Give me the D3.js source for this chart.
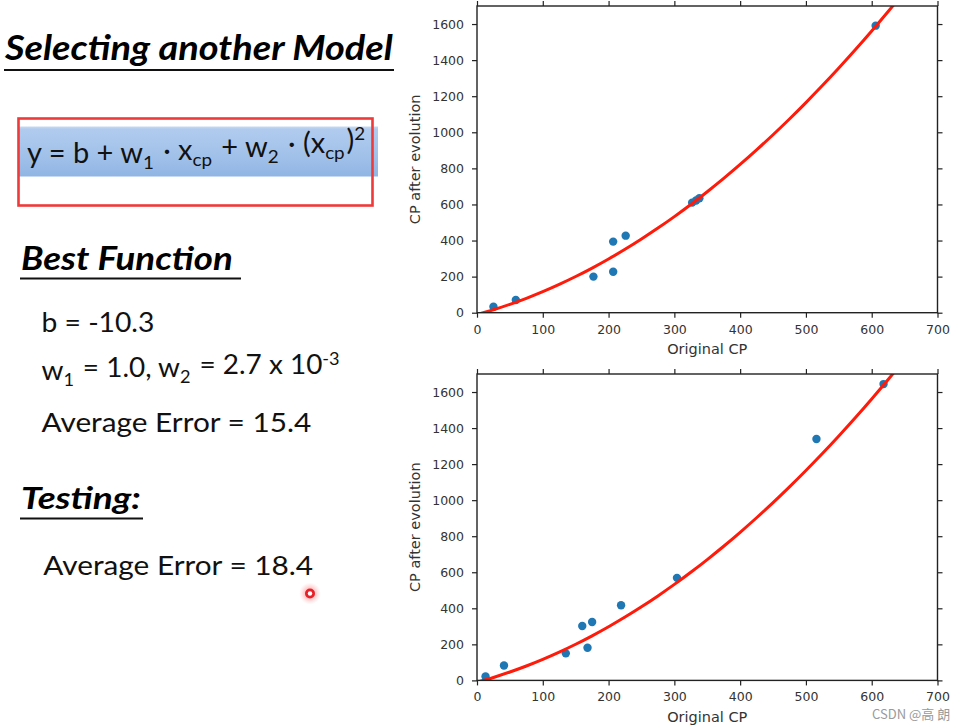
<!DOCTYPE html>
<html>
<head>
<meta charset="utf-8">
<script src="https://cdn.jsdelivr.net/npm/d3@7"></script>
<style>
  html, body { margin: 0; padding: 0; background: #fff; }
  svg { display: block; }
</style>
</head>
<body>
<svg id="chart" width="963" height="727"></svg>
<script>
// ---------- data ----------
const xTicks = [0, 100, 200, 300, 400, 500, 600, 700];
const yTicks = [0, 200, 400, 600, 800, 1000, 1200, 1400, 1600];

const trainX = [25, 59, 177, 207, 207, 226, 327, 333, 338, 606];
const trainY = [33, 70, 200, 227, 394, 427, 610, 622, 634, 1591];

const testX = [13, 41, 135, 160, 168, 175, 219, 304, 516, 618];
const testY = [22, 83, 150, 302, 181, 324, 417, 569, 1339, 1644];

// fitted curve
const curveX = [0, 25, 50, 75, 100, 125, 150, 175, 200, 225, 250, 275, 300, 325, 350, 375, 400, 425, 450, 475, 500, 525, 550, 575, 600, 625, 650];
const curveY = [-10.3, 16.4, 46.5, 79.9, 116.7, 156.9, 200.5, 247.4, 297.7, 351.4, 408.5, 468.9, 532.7, 599.9, 670.5, 744.4, 821.7, 902.4, 986.5, 1073.9, 1164.7, 1258.9, 1356.5, 1457.4, 1561.7, 1669.4, 1780.5];

const xLabel = "Original CP";
const yLabel = "CP after evolution";

// ---------- svg ----------
const svg = d3.select("#chart");
const defs = svg.append("defs");

const slideFont = "Lato, 'Open Sans', 'Liberation Sans', sans-serif";

// place text at (x0,y0) and stretch it horizontally to a target width
function fitBox(text, x0, y0, target) {
  const w = text.node().getComputedTextLength();
  text.attr("x", 0).attr("y", 0)
    .attr("transform", `translate(${x0},${y0}) scale(${target / w},1)`);
}

function richText(size, parts, opts) {
  opts = opts || {};
  const t = svg.append("text")
    .attr("font-family", slideFont).attr("font-size", size).attr("fill", opts.color || "#111")
    .attr("font-weight", opts.bold ? 700 : 400).attr("font-style", opts.italic ? "italic" : "normal");
  parts.forEach(p => {
    if (typeof p === "string") {
      t.append("tspan").text(p);
    } else if (p.sub) {
      t.append("tspan").attr("font-size", "65%").attr("dy", "0.33em").text(p.sub);
      t.append("tspan").attr("dy", "-0.33em").text("\u200A");
    } else if (p.sup) {
      t.append("tspan").attr("font-size", "65%").attr("dy", "-0.55em").text(p.sup);
      t.append("tspan").attr("dy", "0.55em").text("\u200A");
    }
  });
  return t;
}

// Title
fitBox(richText(34.5, ["Selecting another Model"], {bold: true, italic: true, color: "#000"}), 5, 60, 388);
svg.append("line").attr("x1", 4).attr("x2", 394).attr("y1", 70).attr("y2", 70)
  .attr("stroke", "#111").attr("stroke-width", 2);

// Formula box
const grad = defs.append("linearGradient").attr("id", "boxGrad")
  .attr("x1", 0).attr("y1", 0).attr("x2", 0).attr("y2", 1);
grad.append("stop").attr("offset", "0%").attr("stop-color", "#c6d9f2");
grad.append("stop").attr("offset", "6%").attr("stop-color", "#b0cbee");
grad.append("stop").attr("offset", "55%").attr("stop-color", "#a3c2ea");
grad.append("stop").attr("offset", "100%").attr("stop-color", "#90b5e3");

svg.append("rect").attr("x", 19).attr("y", 126.5).attr("width", 359).attr("height", 50)
  .attr("fill", "url(#boxGrad)");
svg.append("rect").attr("x", 18.5).attr("y", 118.5).attr("width", 354).attr("height", 87)
  .attr("fill", "none").attr("stroke", "#ef3a3a").attr("stroke-width", 2.6);

fitBox(richText(28,
  ["y = b + w", {sub: "1"}, " \u00B7 x", {sub: "cp"}, " + w", {sub: "2"}, " \u00B7 (x", {sub: "cp"}, ")", {sup: "2"}]),
  27, 163, 340);

// Best Function
fitBox(richText(32, ["Best Function"], {bold: true, italic: true, color: "#000"}), 21, 270, 212);
svg.append("line").attr("x1", 20).attr("x2", 241).attr("y1", 278.5).attr("y2", 278.5)
  .attr("stroke", "#111").attr("stroke-width", 2);

fitBox(richText(26, ["b = -10.3"]), 41.5, 332, 113);
fitBox(richText(26, ["w", {sub: "1"}, " = 1.0, w", {sub: "2"}, " = 2.7 x 10", {sup: "-3"}]), 41.5, 380, 300);
fitBox(richText(26, ["Average Error = 15.4"]), 41.5, 432, 270);

fitBox(richText(30.5, ["Testing:"], {bold: true, italic: true, color: "#000"}), 21, 508.5, 120);
svg.append("line").attr("x1", 20).attr("x2", 143).attr("y1", 518.5).attr("y2", 518.5)
  .attr("stroke", "#111").attr("stroke-width", 2);

fitBox(richText(26, ["Average Error = 18.4"]), 43.3, 575, 270);

// cursor mark
const glow = defs.append("radialGradient").attr("id", "glow");
glow.append("stop").attr("offset", "0%").attr("stop-color", "#ff5a5a").attr("stop-opacity", 0.75);
glow.append("stop").attr("offset", "60%").attr("stop-color", "#ff8a8a").attr("stop-opacity", 0.35);
glow.append("stop").attr("offset", "100%").attr("stop-color", "#ffb0b0").attr("stop-opacity", 0);
svg.append("circle").attr("cx", 310).attr("cy", 593.5).attr("r", 11).attr("fill", "url(#glow)");
svg.append("circle").attr("cx", 310).attr("cy", 593.5).attr("r", 5).attr("fill", "#e5222a");
svg.append("circle").attr("cx", 310).attr("cy", 593.5).attr("r", 2.2).attr("fill", "#fff");

// ---------- charts ----------
const x = d3.scaleLinear().domain([0, 700]).range([477, 937.5]);

function drawChart(id, top, bottom, xs, ys) {
  const y = d3.scaleLinear().domain([0, 1700]).range([bottom, top]);
  const g = svg.append("g");
  const tickFont = "'DejaVu Sans', 'Bitstream Vera Sans', sans-serif";

  defs.append("clipPath").attr("id", "clip" + id)
    .append("rect").attr("x", x(0)).attr("y", top).attr("width", x(700) - x(0)).attr("height", bottom - top);

  const styleAxis = a => {
    a.select(".domain").remove();
    a.selectAll(".tick line").attr("stroke", "#222").attr("stroke-width", 1.2);
    a.selectAll(".tick text").attr("font-family", tickFont).attr("font-size", 12.5).attr("fill", "#333");
  };

  g.append("g").attr("transform", `translate(0,${bottom})`)
    .call(d3.axisBottom(x).tickValues(xTicks).tickSize(5).tickSizeOuter(0).tickPadding(7).tickFormat(d3.format("d")))
    .call(styleAxis);
  g.append("g").attr("transform", `translate(0,${top})`)
    .call(d3.axisTop(x).tickValues(xTicks).tickSize(5).tickSizeOuter(0).tickFormat(""))
    .call(styleAxis);
  g.append("g").attr("transform", `translate(${x(0)},0)`)
    .call(d3.axisLeft(y).tickValues(yTicks).tickSize(5).tickSizeOuter(0).tickPadding(8).tickFormat(d3.format("d")))
    .call(styleAxis);
  g.append("g").attr("transform", `translate(${x(700)},0)`)
    .call(d3.axisRight(y).tickValues(yTicks).tickSize(5).tickSizeOuter(0).tickFormat(""))
    .call(styleAxis);

  // points
  g.append("g").selectAll("circle").data(xs.map((d, i) => [d, ys[i]])).join("circle")
    .attr("cx", d => x(d[0])).attr("cy", d => y(d[1])).attr("r", 4.2)
    .attr("fill", "#1f77b4");

  // curve
  const line = d3.line().x((d, i) => x(curveX[i])).y(d => y(d)).curve(d3.curveCatmullRom);
  g.append("path").datum(curveY).attr("d", line)
    .attr("clip-path", `url(#clip${id})`)
    .attr("fill", "none").attr("stroke", "#ff1a0a").attr("stroke-width", 3);

  // frame
  g.append("rect").attr("x", x(0)).attr("y", top).attr("width", x(700) - x(0)).attr("height", bottom - top)
    .attr("fill", "none").attr("stroke", "#222").attr("stroke-width", 1.4);

  // labels
  g.append("text").attr("x", (x(0) + x(700)) / 2).attr("y", bottom + 41.5)
    .attr("text-anchor", "middle").attr("font-family", tickFont).attr("font-size", 14.5).attr("fill", "#333")
    .text(xLabel);
  g.append("text").attr("transform", `translate(420,${(top + bottom) / 2}) rotate(-90)`)
    .attr("text-anchor", "middle").attr("font-family", tickFont).attr("font-size", 14.5).attr("fill", "#333")
    .text(yLabel);
}

drawChart("a", 6, 312.7, trainX, trainY);
drawChart("b", 374, 680.4, testX, testY);

// watermark
svg.append("text").attr("x", 872).attr("y", 719)
  .attr("font-family", "'Noto Sans CJK SC', 'Noto Sans', sans-serif").attr("font-size", 13)
  .attr("fill", "#9a9a9a").text("CSDN @高 朗");
</script>
</body>
</html>
